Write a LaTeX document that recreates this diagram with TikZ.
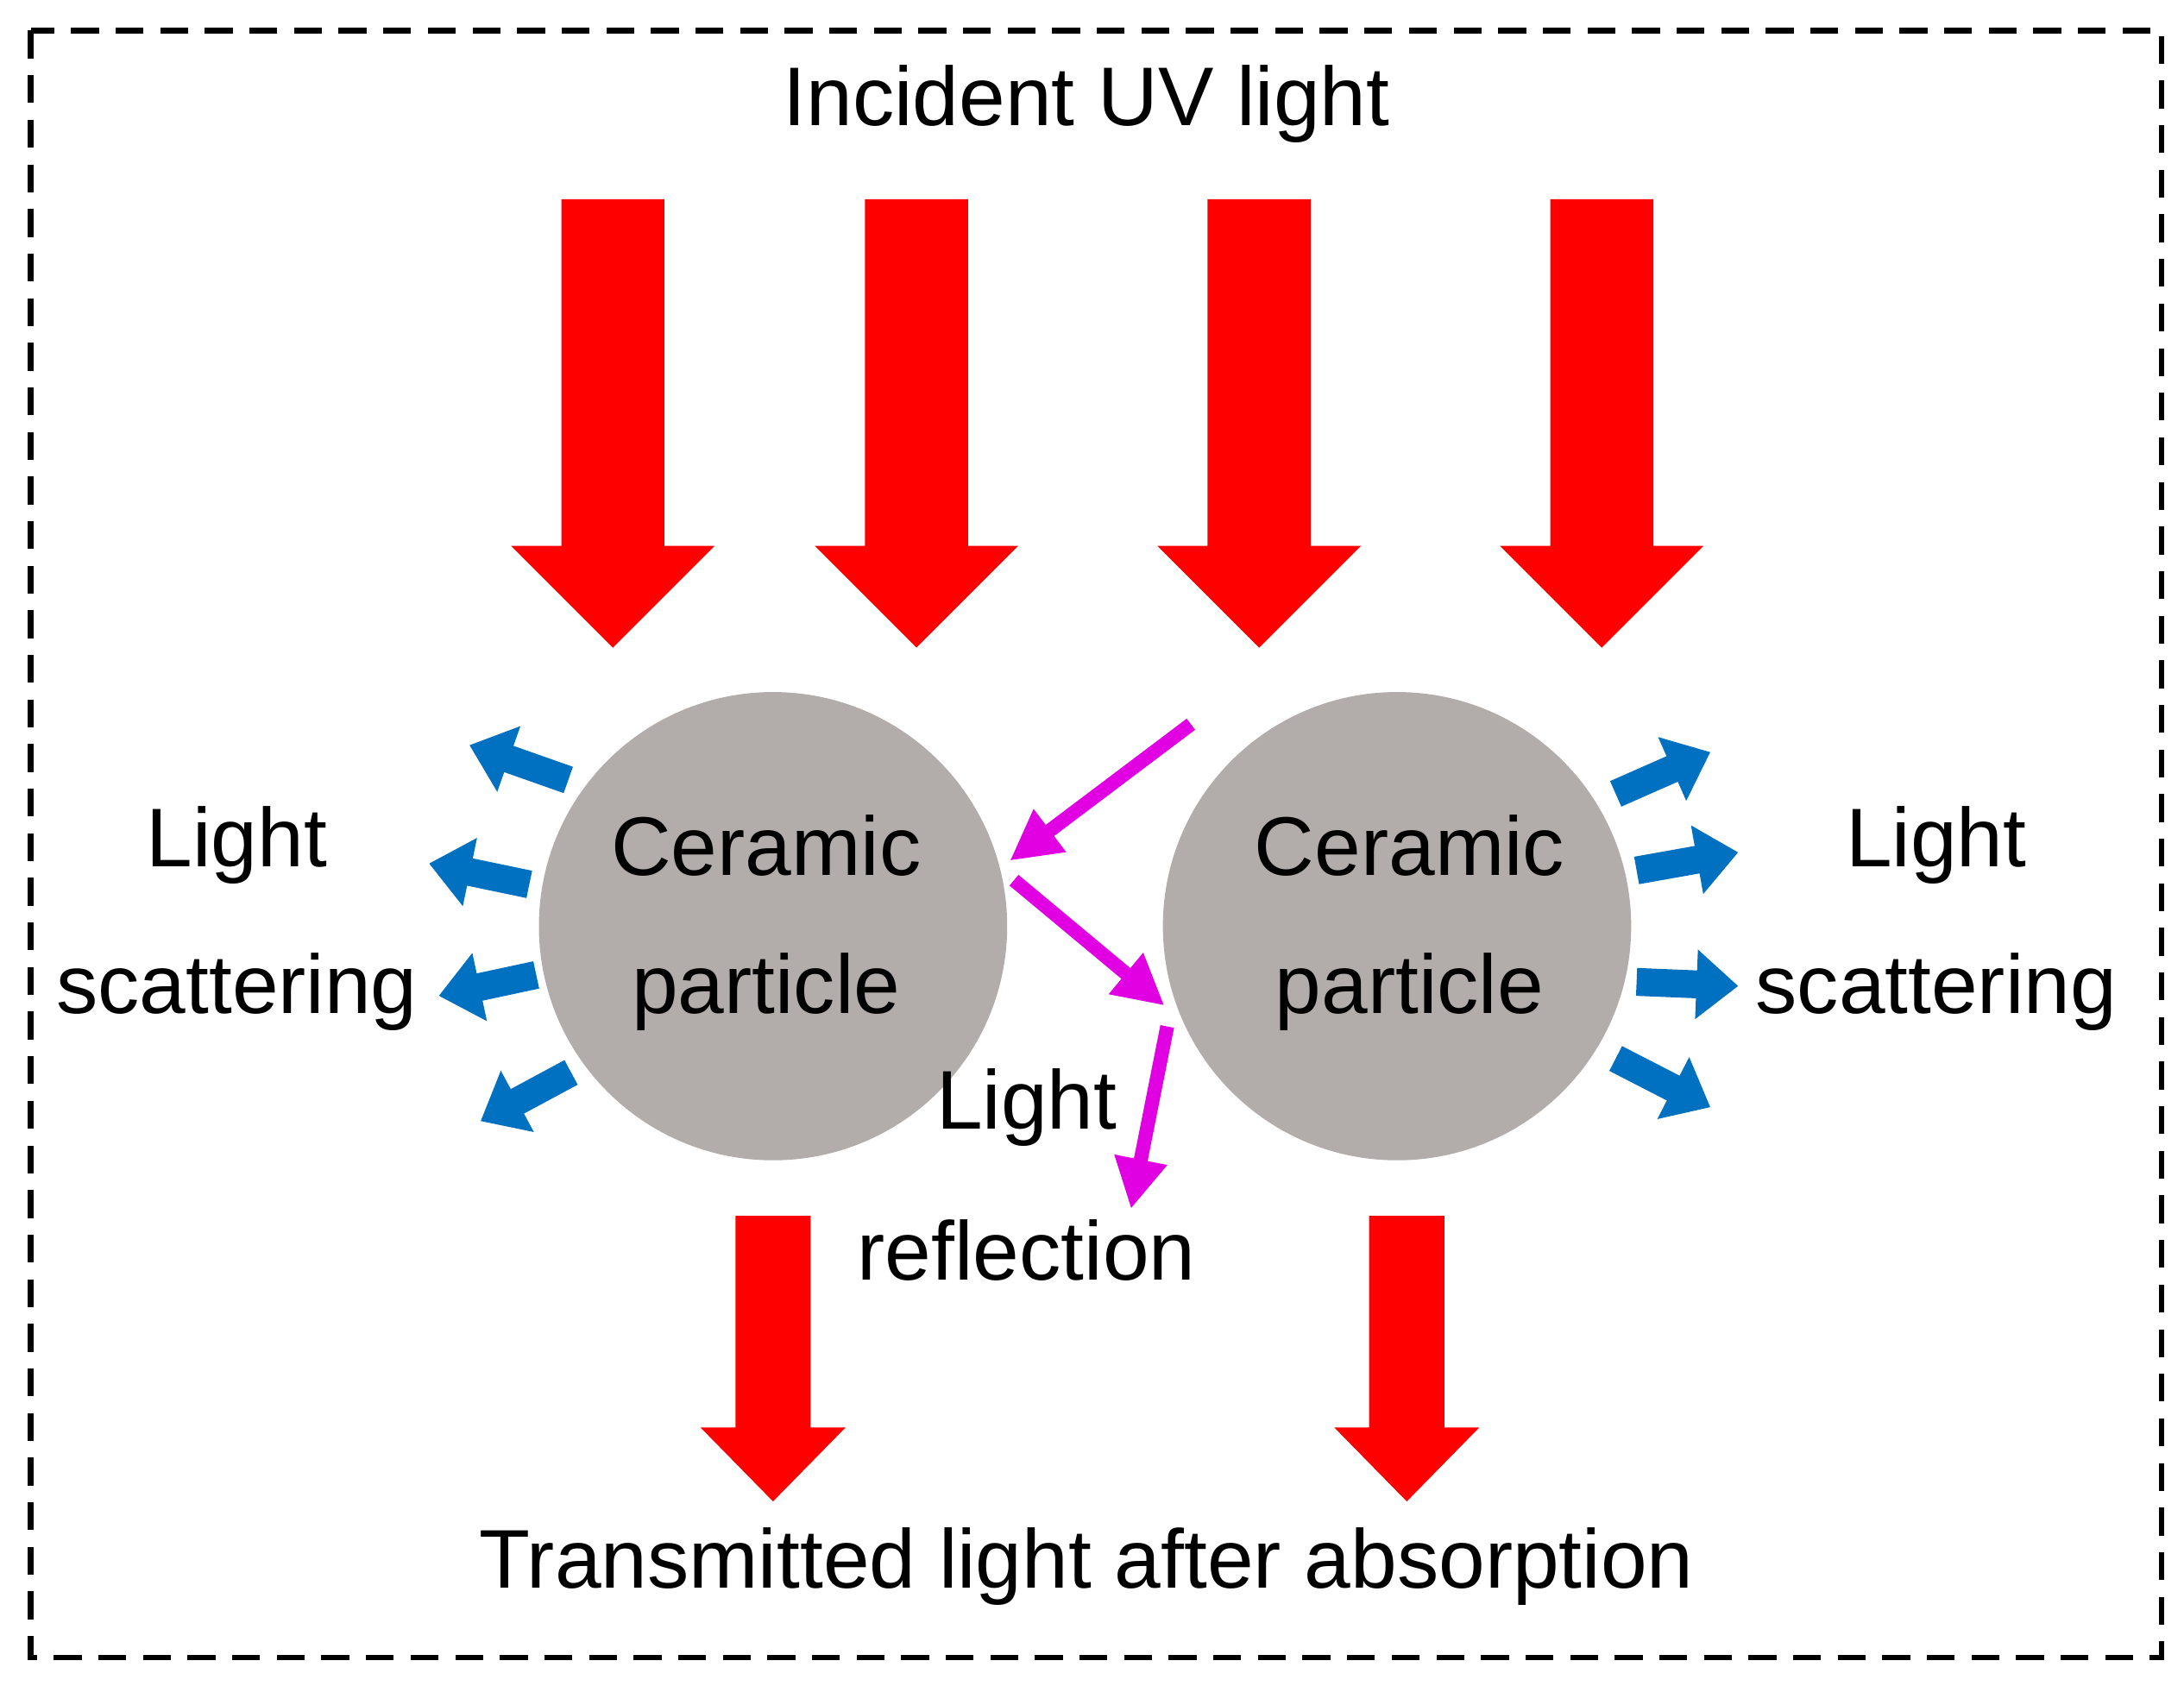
\documentclass[tikz,border=0pt]{standalone}
\usepackage{fontspec}
\setmainfont{Liberation Sans}
\usetikzlibrary{arrows.meta}
\definecolor{uvred}{RGB}{255,0,0}
\definecolor{particle}{RGB}{178,172,170}
\definecolor{scatblue}{RGB}{0,112,192}
\definecolor{reflmag}{RGB}{225,0,225}
\begin{document}
\begin{tikzpicture}[x=0.01cm, y=-0.01cm]
    \tikzstyle{label}=[font=\fontsize{17}{20}\selectfont, inner sep=0pt]
    \tikzstyle{particle}=[circle, fill=particle, minimum size=3.36cm, inner sep=0pt]
    \tikzstyle{scatter}=[scatblue, line width=0.2cm, -{Triangle[width=0.48cm,length=0.3cm]}]
    \tikzstyle{reflect}=[reflmag, line width=0.1cm, -{Triangle[width=0.36cm,length=0.36cm]}]
    \useasboundingbox (0,0) rectangle (1568,1210);
    % frame
    \draw [dashed, line width=0.04cm, dash pattern=on 0.2cm off 0.12cm] (22,22) rectangle (1552,1190);
    % incident arrows
    \foreach \c in {440,658,904,1150}
    \fill [uvred] (\c-37,143) -- (\c+37,143) -- (\c+37,392) -- (\c+73,392)
        -- (\c,465) -- (\c-73,392) -- (\c-37,392) -- cycle;
    % transmitted arrows
    \foreach \c in {555,1010}
    \fill [uvred] (\c-27,873) -- (\c+27,873) -- (\c+27,1025) -- (\c+52,1025)
        -- (\c,1078) -- (\c-52,1025) -- (\c-27,1025) -- cycle;
    % particles
    \node [particle] (left) at (555,665) {};
    \node [particle] (right) at (1003,665) {};
    \node [label] (leftA) at (550,607) {Ceramic};
    \node [label] (leftB) at (550,712) {particle};
    \node [label] (rightA) at (1012,607) {Ceramic};
    \node [label] (rightB) at (1012,712) {particle};
    % texts
    \node [label] (title) at (780,75) {Incident UV light};
    \node [label] (bottom) at (780,1125) {Transmitted light after absorption};
    \node [label] (lsA) at (170,607) {Light};
    \node [label] (lsB) at (170,712) {scattering};
    \node [label] (rsA) at (1390,607) {Light};
    \node [label] (rsB) at (1390,712) {scattering};
    \node [label] (rfA) at (737,795) {Light};
    \node [label] (rfB) at (737,898) {reflection};
    % scattering
    \foreach \a/\b/\c/\d in {408/560/337/535, 380/635/308/620, 385/700/315/715, 410/770/345/805,
        1160/570/1228/540, 1175/625/1248/612, 1175/705/1248/708, 1160/760/1228/795}
    \draw [scatter] (\a,\b) -- (\c,\d);
    % reflection
    \coordinate (r0) at (855,520);
    \coordinate (r1) at (725,618);
    \coordinate (r2) at (728,632);
    \coordinate (r3) at (836,722);
    \coordinate (r4) at (838,737);
    \coordinate (r5) at (812,868);
    \draw [reflect] (r0) -- (r1);
    \draw [reflect] (r2) -- (r3);
    \draw [reflect] (r4) -- (r5);
\end{tikzpicture}
\end{document}
